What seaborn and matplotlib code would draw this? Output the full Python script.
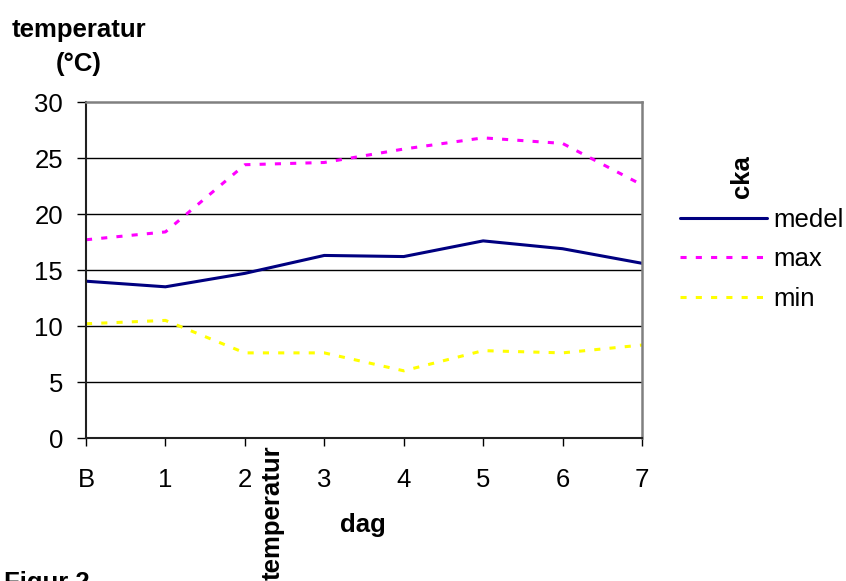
import matplotlib
matplotlib.use("Agg")
import matplotlib.pyplot as plt
import pandas as pd
import seaborn as sns

DAYS = [0, 1, 2, 3, 4, 5, 6, 7]
DAY_LABELS = ["B", "1", "2", "3", "4", "5", "6", "7"]
MEDEL = [14.0, 13.5, 14.7, 16.3, 16.2, 17.6, 16.9, 15.6]
MAX = [17.7, 18.4, 24.4, 24.6, 25.8, 26.8, 26.3, 22.6]
MIN = [10.2, 10.5, 7.6, 7.6, 6.0, 7.8, 7.6, 8.3]

SERIES = ["medel", "max", "min"]
COLORS = {"medel": "#000080", "max": "#FF00FF", "min": "#FFFF00"}
DASHES = {"medel": "", "max": (2, 3), "min": (2, 3)}


def build_frame() -> pd.DataFrame:
    rows = []
    for name, vals in zip(SERIES, [MEDEL, MAX, MIN]):
        for d, v in zip(DAYS, vals):
            rows.append({"dag": d, "temp": v, "serie": name})
    return pd.DataFrame(rows)


def main() -> None:
    sns.set_style("white")
    plt.rcParams["font.family"] = ["Liberation Sans", "DejaVu Sans"]
    plt.rcParams["text.color"] = "black"
    plt.rcParams["xtick.color"] = "black"
    plt.rcParams["ytick.color"] = "black"
    fs = 18.5

    fig = plt.figure(figsize=(8.46, 5.81), dpi=100)
    ax = fig.add_axes([86 / 846, 1 - 438 / 581, 556 / 846, 336 / 581])

    df = build_frame()
    sns.lineplot(
        data=df, x="dag", y="temp", hue="serie", style="serie",
        palette=COLORS, dashes=DASHES, hue_order=SERIES, style_order=SERIES,
        linewidth=2.2, ax=ax, legend=False,
    )

    ax.set_xlim(0, 7)
    ax.set_ylim(0, 30)
    ax.set_xticks(DAYS)
    ax.set_xticklabels(DAY_LABELS)
    ax.set_yticks(range(0, 31, 5))
    for y in range(5, 30, 5):
        ax.axhline(y, color="black", linewidth=1, zorder=0)

    ax.tick_params(axis="y", direction="out", length=6.5, width=1, pad=10, labelsize=fs, left=True)
    ax.tick_params(axis="x", direction="out", length=5.5, width=1, pad=16, labelsize=fs, bottom=True)
    ax.set_xlabel("")
    ax.set_ylabel("")
    for side in ["left", "bottom"]:
        ax.spines[side].set_color("#202020")
        ax.spines[side].set_linewidth(1.5)
    for side in ["top", "right"]:
        ax.spines[side].set_color("#808080")
        ax.spines[side].set_linewidth(1.8)

    # legend drawn by hand on the right
    handles = [
        plt.Line2D([], [], color=COLORS[s], linewidth=2.2,
                   linestyle="-" if s == "medel" else (0, (2, 3)))
        for s in SERIES
    ]
    fig.legend(
        handles, SERIES, loc="upper left", bbox_to_anchor=(680 / 846, 1 - 208 / 581),
        frameon=False, fontsize=fs, handlelength=3.4, handletextpad=0.25,
        labelspacing=0.6, borderpad=0, borderaxespad=0,
    )
    fig.text(742 / 846, 1 - 177 / 581, "cka", rotation=90, fontsize=fs,
             fontweight="bold", ha="center", va="center")

    fig.text(79 / 846, 1 - 30 / 581, "temperatur", fontsize=fs, fontweight="bold",
             ha="center", va="center")
    fig.text(79 / 846, 1 - 64 / 581, "(°C)", fontsize=fs, fontweight="bold",
             ha="center", va="center")
    fig.text(363 / 846, 1 - 525 / 581, "dag", fontsize=fs, fontweight="bold",
             ha="center", va="center")
    fig.text(273 / 846, 1 - 445 / 581, "temperatur", rotation=90, fontsize=fs,
             fontweight="bold", ha="center", va="top")
    fig.text(4 / 846, 1 - 571 / 581, "Figur 2", fontsize=fs, fontweight="bold",
             ha="left", va="top")

    fig.savefig("out.png", dpi=100)
    plt.close(fig)


if __name__ == "__main__":
    main()
